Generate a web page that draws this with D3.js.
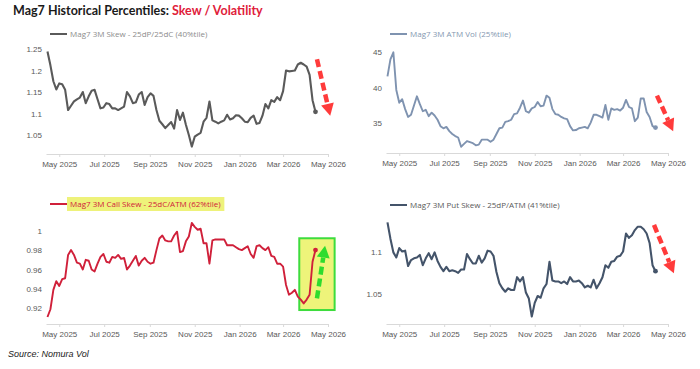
<!DOCTYPE html>
<html>
<head>
<meta charset="utf-8">
<script src="https://cdn.jsdelivr.net/npm/d3@7"></script>
<style>
  body { margin: 0; background: #fff; }
  svg { display: block; font-family: "Open Sans", sans-serif; }
  .axis path, .axis line { stroke: #d9d9d9; }
  .axis text { fill: #595959; font-size: 8px; }
  .yaxis path { display: none; }
</style>
</head>
<body>
<svg id="chart" width="700" height="369"></svg>
<script>
(function () {

    'use strict';

    // observations every 4 days starting here
    var startDate = "2025-04-15";
    var stepDays = 4;

    var xTicks = ["2025-05-01", "2025-07-01", "2025-09-01", "2025-11-01", "2026-01-01", "2026-03-01", "2026-05-01"];

    var skew = [
        1.244, 1.212, 1.175, 1.156, 1.170, 1.168, 1.155, 1.108, 1.118, 1.128,
        1.133, 1.137, 1.150, 1.124, 1.140, 1.153, 1.155, 1.133, 1.112, 1.114,
        1.124, 1.122, 1.112, 1.112, 1.108, 1.112, 1.116, 1.150, 1.140, 1.124,
        1.126, 1.144, 1.150, 1.120, 1.138, 1.147, 1.141, 1.108, 1.083, 1.075,
        1.066, 1.073, 1.080, 1.065, 1.108, 1.085, 1.102, 1.074, 1.050, 1.023,
        1.046, 1.051, 1.055, 1.081, 1.090, 1.128, 1.084, 1.081, 1.077, 1.081,
        1.084, 1.097, 1.086, 1.089, 1.096, 1.095, 1.089, 1.081, 1.080, 1.090,
        1.095, 1.076, 1.078, 1.095, 1.122, 1.112, 1.131, 1.127, 1.138, 1.131,
        1.152, 1.200, 1.198, 1.199, 1.200, 1.214, 1.218, 1.214, 1.209, 1.190,
        1.131, 1.104];

    var atmVol = [
        41.6, 44.0, 45.0, 39.7, 37.9, 38.4, 37.0, 35.9, 36.2, 37.5,
        38.8, 37.7, 36.7, 36.9, 36.0, 36.5, 36.1, 35.5, 34.6, 34.3,
        34.5, 33.9, 33.5, 33.2, 33.0, 31.7, 32.1, 32.5, 32.35, 32.2,
        31.9, 32.0, 32.7, 32.7, 32.7, 32.4, 32.7, 33.5, 34.3, 34.4,
        35.2, 35.3, 35.5, 36.3, 36.4, 37.2, 38.2, 36.7, 36.5, 37.1,
        37.3, 38.0, 37.4, 37.5, 38.9, 38.6, 37.0, 36.3, 36.2, 35.9,
        35.7, 35.6, 34.6, 34.0, 34.05, 34.3, 34.4, 34.5, 34.3, 35.1,
        36.2, 36.2, 36.0, 35.8, 37.6, 35.5, 37.1, 36.9, 37.0, 36.8,
        37.2, 38.3, 37.3, 37.1, 35.3, 35.8, 38.5, 38.5, 36.6, 35.9,
        34.6, 34.4];

    var callSkew = [
        0.911, 0.919, 0.939, 0.948, 0.943, 0.950, 0.951, 0.975, 0.980, 0.975,
        0.967, 0.966, 0.960, 0.970, 0.969, 0.960, 0.958, 0.966, 0.973, 0.976,
        0.968, 0.967, 0.973, 0.972, 0.975, 0.971, 0.972, 0.960, 0.964, 0.969,
        0.974, 0.964, 0.969, 0.972, 0.968, 0.966, 0.967, 0.980, 0.992, 0.995,
        0.990, 0.989, 0.989, 0.995, 0.999, 0.978, 0.979, 0.989, 0.994, 1.008,
        1.004, 1.001, 1.002, 0.987, 0.987, 0.966, 0.990, 0.991, 0.991, 0.991,
        0.991, 0.985, 0.985, 0.985, 0.983, 0.981, 0.980, 0.982, 0.984, 0.976,
        0.972, 0.984, 0.985, 0.982, 0.980, 0.983, 0.974, 0.973, 0.966, 0.966,
        0.963, 0.944, 0.934, 0.936, 0.939, 0.932, 0.929, 0.925, 0.929, 0.934,
        0.968, 0.980];

    var putSkew = [
        1.134, 1.115, 1.099, 1.093, 1.104, 1.100, 1.101, 1.083, 1.090, 1.092,
        1.093, 1.096, 1.084, 1.092, 1.098, 1.091, 1.099, 1.089, 1.082, 1.077,
        1.082, 1.077, 1.078, 1.077, 1.075, 1.079, 1.079, 1.097, 1.091, 1.086,
        1.086, 1.095, 1.087, 1.092, 1.101, 1.100, 1.095, 1.076, 1.063, 1.057,
        1.053, 1.057, 1.055, 1.055, 1.070, 1.065, 1.070, 1.052, 1.045, 1.024,
        1.040, 1.048, 1.046, 1.057, 1.062, 1.088, 1.066, 1.065, 1.065, 1.063,
        1.065, 1.062, 1.070, 1.065, 1.065, 1.066, 1.063, 1.058, 1.060, 1.058,
        1.067, 1.057, 1.063, 1.070, 1.084, 1.081, 1.088, 1.089, 1.094, 1.095,
        1.100, 1.121, 1.116, 1.119, 1.125, 1.129, 1.129, 1.126, 1.121, 1.110,
        1.084, 1.077];

    var skewTicks = [1.05, 1.1, 1.15, 1.2, 1.25];
    var volTicks = [35, 40, 45];
    var callTicks = [0.92, 0.94, 0.96, 0.98, 1];
    var putTicks = [1.05, 1.1];

    var parse = d3.timeParse("%Y-%m-%d");
    var start = parse(startDate);
    var dates = skew.map(function (d, i) { return d3.timeDay.offset(start, i * stepDays); });

    var svg = d3.select("#chart");

    var panels = [
        { values: skew, ticks: skewTicks, left: 46, right: 328, yDomain: [1.0058, 1.25], yRange: [154, 49],
          color: "#5a5a5a", width: 2.1, legend: "Mag7 3M Skew - 25dP/25dC (40%tile)", legendColor: "#8c8c8c", legendY: 34,
          arrow: { from: ["2026-04-16", 1.226], to: ["2026-05-04", 1.095], color: "#ff3b3b" } },
        { values: atmVol, ticks: volTicks, left: 386, right: 668, yDomain: [30.82, 45], yRange: [153, 52.3],
          color: "#7f93b0", width: 1.9, legend: "Mag7 3M ATM Vol (25%tile)", legendColor: "#8497b0", legendY: 34,
          arrow: { from: ["2026-04-16", 38.9], to: ["2026-05-08", 33.9], color: "#ff3b3b" } },
        { values: callSkew, ticks: callTicks, left: 46, right: 328, yDomain: [0.9038, 1], yRange: [324, 230.7],
          color: "#d0203a", width: 1.9, legend: "Mag7 3M Call Skew - 25dC/ATM (62%tile)", legendColor: "#d0203a", legendY: 204,
          highlight: true,
          box: { from: ["2026-03-23", 0.9922], to: ["2026-05-10", 0.9182] },
          arrow: { from: ["2026-04-16", 0.9303], to: ["2026-04-27", 0.9845], color: "#2edc2e" } },
        { values: putSkew, ticks: putTicks, left: 386, right: 668, yDomain: [1.0153, 1.1], yRange: [324, 251.5],
          color: "#44546a", width: 2.1, legend: "Mag7 3M Put Skew - 25dP/ATM (41%tile)", legendColor: "#595959", legendY: 205,
          arrow: { from: ["2026-04-12", 1.131], to: ["2026-05-09", 1.0745], color: "#ff3b3b" } }
    ];

    // title
    var title = svg.append("text")
        .attr("x", 13)
        .attr("y", 15)
        .attr("font-family", "Lato, sans-serif")
        .attr("font-weight", "bold")
        .attr("font-size", 12.5);
    title.append("tspan").attr("fill", "#1a1a1a").text("Mag7 Historical Percentiles: ");
    title.append("tspan").attr("fill", "#e0203a").text("Skew / Volatility");

    panels.forEach(function (p) {

        var x = d3.scaleTime()
            .domain([parse("2025-04-13"), parse("2026-05-01")])
            .range([p.left, p.right]);
        var y = d3.scaleLinear().domain(p.yDomain).range(p.yRange);
        var g = svg.append("g");

        // green highlight box goes under the line
        if (p.box) {
            var bx0 = x(parse(p.box.from[0])), by0 = y(p.box.from[1]);
            var bx1 = x(parse(p.box.to[0])), by1 = y(p.box.to[1]);
            g.append("rect")
                .attr("x", bx0).attr("y", by0)
                .attr("width", bx1 - bx0).attr("height", by1 - by0)
                .attr("fill", "#eef47a")
                .attr("stroke", "#3ddc3d")
                .attr("stroke-width", 2);
        }

        g.append("g")
            .attr("class", "axis")
            .attr("transform", "translate(0," + p.yRange[0] + ")")
            .call(d3.axisBottom(x)
                .tickValues(xTicks.map(parse))
                .tickFormat(d3.timeFormat("%b %Y"))
                .tickSize(3)
                .tickSizeOuter(0)
                .tickPadding(4.5));

        g.append("g")
            .attr("class", "axis yaxis")
            .attr("transform", "translate(" + p.left + ",0)")
            .call(d3.axisLeft(y)
                .tickValues(p.ticks)
                .tickFormat(d3.format("~g"))
                .tickSize(0)
                .tickPadding(4));

        var line = d3.line()
            .x(function (d, i) { return x(dates[i]); })
            .y(function (d) { return y(d); });

        g.append("path")
            .datum(p.values)
            .attr("fill", "none")
            .attr("stroke", p.color)
            .attr("stroke-width", p.width)
            .attr("stroke-linejoin", "round")
            .attr("d", line);

        var last = p.values.length - 1;
        g.append("circle")
            .attr("cx", x(dates[last]))
            .attr("cy", y(p.values[last]))
            .attr("r", 2.4)
            .attr("fill", p.color);

        // legend
        var lg = g.append("g").attr("transform", "translate(" + (p.left + 4) + "," + p.legendY + ")");
        var txt = lg.append("text")
            .attr("x", 20)
            .attr("dy", "0.35em")
            .attr("font-size", 8)
            .attr("fill", p.legendColor)
            .text(p.legend);
        if (p.highlight) {
            var bb = txt.node().getBBox();
            lg.insert("rect", "text")
                .attr("x", bb.x - 3).attr("y", -7)
                .attr("width", bb.width + 6).attr("height", 14)
                .attr("fill", "#eef27a");
        }
        lg.append("line")
            .attr("x1", 0).attr("x2", 17)
            .attr("stroke", p.color)
            .attr("stroke-width", 2);

        // dashed annotation arrow
        var a = p.arrow;
        var x0 = x(parse(a.from[0])), y0 = y(a.from[1]);
        var x1 = x(parse(a.to[0])), y1 = y(a.to[1]);
        var dx = x1 - x0, dy = y1 - y0, len = Math.sqrt(dx * dx + dy * dy);
        var ux = dx / len, uy = dy / len, head = 12, half = 6.5;
        var bxh = x1 - ux * head, byh = y1 - uy * head;
        g.append("line")
            .attr("x1", x0).attr("y1", y0)
            .attr("x2", bxh).attr("y2", byh)
            .attr("stroke", a.color)
            .attr("stroke-width", 4.5)
            .attr("stroke-dasharray", "8,4");
        g.append("path")
            .attr("d", "M" + x1 + "," + y1 +
                "L" + (bxh - uy * half) + "," + (byh + ux * half) +
                "L" + (bxh + uy * half) + "," + (byh - ux * half) + "Z")
            .attr("fill", a.color);
    });

    svg.append("text")
        .attr("x", 8)
        .attr("y", 357)
        .attr("font-family", "Liberation Sans, Arial, sans-serif")
        .attr("font-style", "italic")
        .attr("font-size", 9)
        .attr("fill", "#1a1a1a")
        .text("Source: Nomura Vol");

})();
</script>
</body>
</html>
